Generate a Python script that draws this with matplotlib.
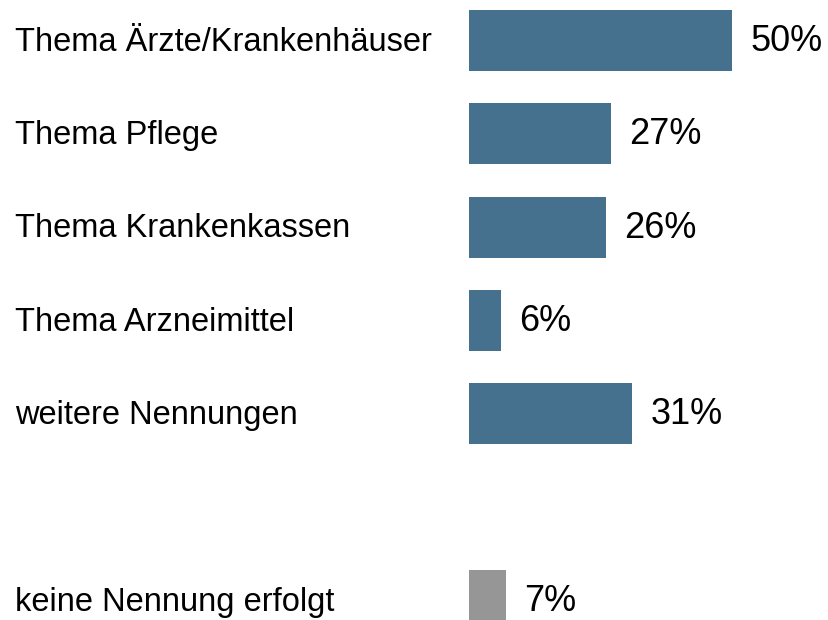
import matplotlib
matplotlib.use("Agg")
import matplotlib.pyplot as plt
from matplotlib.transforms import blended_transform_factory

categories = ["Thema Ärzte/Krankenhäuser", "Thema Pflege", "Thema Krankenkassen",
              "Thema Arzneimittel", "weitere Nennungen", "keine Nennung erfolgt"]
values = [50, 27, 26, 6, 31, 7]
positions = [0, 1, 2, 3, 4, 6]
colors = ["#45718F"] * 5 + ["#969696"]

plt.rcParams['font.family'] = ['Liberation Sans', 'DejaVu Sans']

W, H = 829, 620
fig = plt.figure(figsize=(W / 100, H / 100), dpi=100)
fig.patch.set_facecolor("white")
ax = fig.add_axes([469 / W, 0, 1 - 469 / W, 1])
ax.set_axis_off()

ax.barh(positions, values, height=0.655, color=colors, align="center")
ax.set_xlim(0, 360 / 5.26)
ax.set_ylim((H - 40.5) / 93.3, -40.5 / 93.3)

trans = blended_transform_factory(fig.transFigure, ax.transData)
for cat, p in zip(categories, positions):
    ax.text(15 / W, p + 0.02, cat, transform=trans, ha="left", va="center",
            fontsize=23.5, color="black", clip_on=False)
for v, p in zip(values, positions):
    ax.text(v + 3.5, p + 0.01, f"{v}%", ha="left", va="center",
            fontsize=26, color="black", clip_on=False)

fig.savefig("out.png", dpi=100, facecolor="white")
